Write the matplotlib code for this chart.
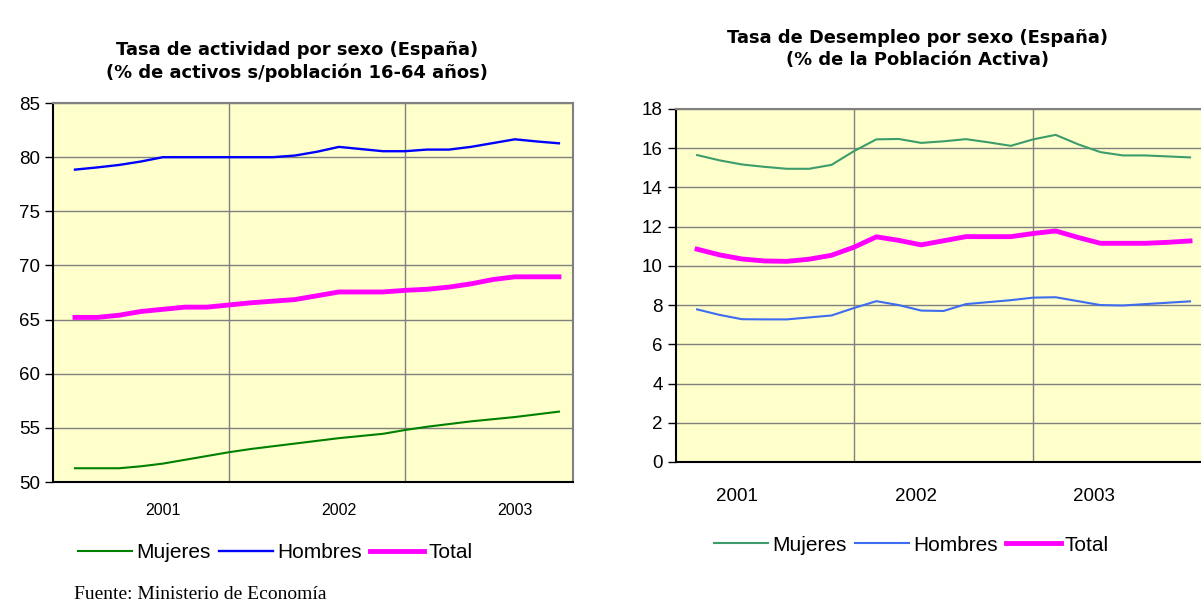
import matplotlib
matplotlib.use("Agg")
from matplotlib import pyplot as plt

plt.rcParams['font.family'] = ['Liberation Sans', 'DejaVu Sans']

# --- Tasa de actividad (left chart), 23 puntos ---
act_mujeres = [51.27, 51.27, 51.27, 51.45, 51.7, 52.05, 52.4, 52.75, 53.05, 53.3, 53.55, 53.8,
               54.05, 54.25, 54.45, 54.8, 55.1, 55.35, 55.6, 55.8, 56.0, 56.25, 56.5]
act_hombres = [78.85, 79.05, 79.28, 79.6, 80.0, 80.0, 80.0, 80.0, 80.0, 80.0, 80.15, 80.5,
               80.95, 80.75, 80.55, 80.55, 80.7, 80.7, 80.95, 81.3, 81.65, 81.45, 81.28]
act_total = [65.2, 65.2, 65.4, 65.75, 65.95, 66.15, 66.15, 66.35, 66.55, 66.7, 66.85, 67.2,
             67.55, 67.55, 67.55, 67.7, 67.8, 68.0, 68.3, 68.7, 68.95, 68.95, 68.95]

# --- Tasa de desempleo (right chart) ---
des_mujeres = [15.65, 15.38, 15.17, 15.05, 14.95, 14.95, 15.15, 15.85, 16.45, 16.47, 16.27, 16.35,
               16.46, 16.3, 16.12, 16.45, 16.68, 16.2, 15.8, 15.63, 15.63, 15.58, 15.53]
des_hombres = [7.78, 7.5, 7.28, 7.27, 7.27, 7.37, 7.47, 7.85, 8.2, 8.0, 7.72, 7.7,
               8.05, 8.15, 8.25, 8.38, 8.4, 8.2, 8.0, 7.98, 8.05, 8.12, 8.19]
des_total = [10.85, 10.56, 10.35, 10.25, 10.23, 10.34, 10.54, 10.95, 11.48, 11.3, 11.07, 11.28,
             11.49, 11.49, 11.49, 11.65, 11.78, 11.45, 11.15, 11.15, 11.15, 11.2, 11.27]

years = ['2001', '2002', '2003']
x = list(range(len(act_total)))

fig = plt.figure(figsize=(12.01, 6.05), dpi=100)

def style_axes(ax):
    ax.set_facecolor('#FFFFCC')
    ax.grid(axis='y', color='#808080', lw=1)
    ax.set_axisbelow(True)
    for s in ['top', 'right']:
        ax.spines[s].set_color('#808080')
        ax.spines[s].set_linewidth(1.5)
    for s in ['left', 'bottom']:
        ax.spines[s].set_color('#000000')
        ax.spines[s].set_linewidth(1.5)
    for v in [7, 15]:
        ax.axvline(v, color='#808080', lw=1, zorder=0.5)
    ax.tick_params(axis='x', length=0)
    ax.tick_params(axis='y', length=6, width=1, direction='out')

title_font = dict(family='DejaVu Sans', fontsize=12.9, fontweight='bold',
                  ha='center', va='center', linespacing=1.3)
legend_kw = dict(loc='center', bbox_transform=fig.transFigure, ncol=3, frameon=False,
                 fontsize=15, handlelength=2.6, handletextpad=0.2, columnspacing=0.4)

# left
ax1 = fig.add_axes([0.0441, 0.2033, 0.433, 0.6264])
style_axes(ax1)
ax1.plot(x, act_mujeres, color='#008000', lw=1.5, label='Mujeres')
ax1.plot(x, act_hombres, color='#0000FF', lw=1.7, label='Hombres')
ax1.plot(x, act_total, color='#FF00FF', lw=3.5, label='Total')
ax1.set_xlim(-1, 22.64)
ax1.set_ylim(50, 85)
ax1.set_yticks(range(50, 86, 5))
ax1.set_xticks([4, 12, 20])
ax1.set_xticklabels(years, fontsize=11.5)
ax1.tick_params(axis='x', pad=15)
ax1.tick_params(axis='y', labelsize=13.5)
fig.text(0.2473, 0.898, 'Tasa de actividad por sexo (España)\n(% de activos s/población 16-64 años)',
         **title_font)
ax1.legend(bbox_to_anchor=(0.229, 0.086), **legend_kw)

# right
ax2 = fig.add_axes([0.5629, 0.2364, 0.4455, 0.5835])
style_axes(ax2)
ax2.plot(x, des_mujeres, color='#3C9C6A', lw=1.5, label='Mujeres')
ax2.plot(x, des_hombres, color='#3D6CF0', lw=1.5, label='Hombres')
ax2.plot(x, des_total, color='#FF00FF', lw=3.5, label='Total')
ax2.set_xlim(-0.94, 22.94)
ax2.set_ylim(0, 18)
ax2.set_yticks(range(0, 19, 2))
ax2.set_xticks([1.8, 9.75, 17.7])
ax2.set_xticklabels(years, fontsize=13.5)
ax2.tick_params(axis='x', pad=19)
ax2.tick_params(axis='y', labelsize=13.5)
fig.text(0.764, 0.919, 'Tasa de Desempleo por sexo (España)\n(% de la Población Activa)',
         **title_font)
ax2.legend(bbox_to_anchor=(0.759, 0.099), **legend_kw)

fig.text(0.062, 0.004, 'Fuente: Ministerio de Economía', family='Liberation Serif',
         fontsize=14, ha='left', va='bottom')

fig.savefig('out.png', dpi=100)
